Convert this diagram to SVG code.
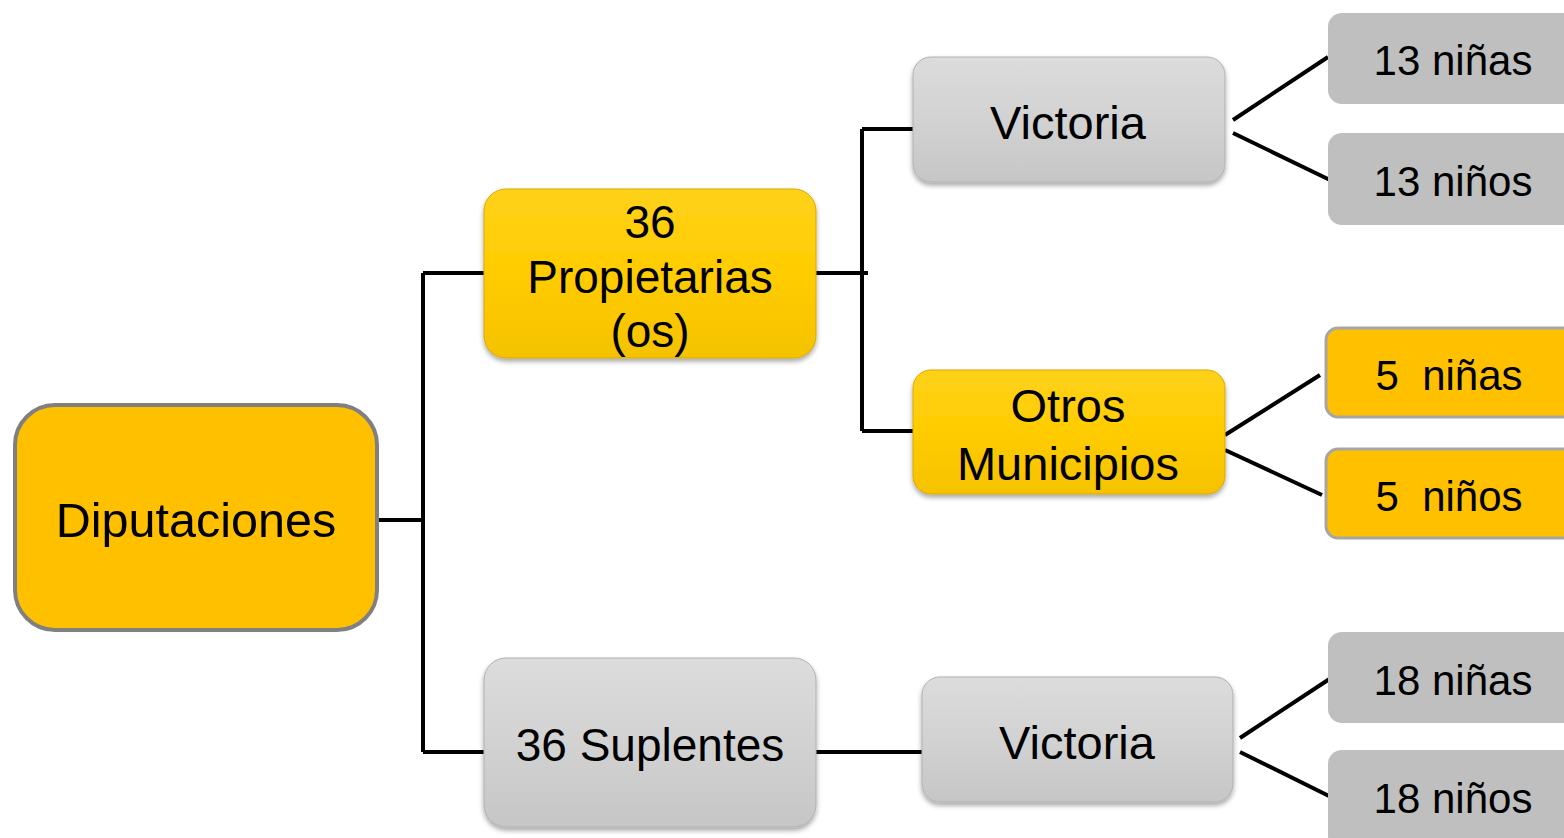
<svg xmlns="http://www.w3.org/2000/svg" width="1564" height="838" viewBox="0 0 1564 838">
<defs>
<linearGradient id="gy" x1="0" y1="0" x2="0" y2="1">
<stop offset="0" stop-color="#FFD21A"/><stop offset="0.5" stop-color="#FFCC00"/><stop offset="1" stop-color="#F5C200"/>
</linearGradient>
<linearGradient id="gg" x1="0" y1="0" x2="0" y2="1">
<stop offset="0" stop-color="#DCDCDC"/><stop offset="0.5" stop-color="#D2D2D2"/><stop offset="1" stop-color="#C6C6C6"/>
</linearGradient>
<filter id="sh" x="-10%" y="-10%" width="120%" height="130%">
<feDropShadow dx="0" dy="3" stdDeviation="2.5" flood-color="#000" flood-opacity="0.35"/>
</filter>
</defs>
<style>
text{font-family:"Liberation Sans",Arial,sans-serif;fill:#000;text-anchor:middle}
.dip{font-size:48.5px}
.big{font-size:47px}
.mid{font-size:46px}
.sm{font-size:42px}
.y3{fill:url(#gy);stroke:#D9A800;stroke-width:1;filter:url(#sh)}
.g3{fill:url(#gg);stroke:#B0B0B0;stroke-width:1;filter:url(#sh)}
.leafg{fill:#BFBFBF}
.leafy{fill:#FFC000;stroke:#A6A6A6;stroke-width:3}
.c{stroke:#000;stroke-width:4;fill:none}
</style>
<g id="connectors">
<path class="c" d="M374 520H423M423 273V752M423 273H485M423 752H485"/>
<path class="c" d="M816 273H868M862 129V431M862 129H914M862 431H914"/>
<path class="c" d="M1233 120L1328 57M1233 133L1330 180"/>
<path class="c" d="M1225 435L1320 375M1225 450L1322 495"/>
<path class="c" d="M816 752H923"/>
<path class="c" d="M1240 738L1331 678M1240 752L1331 797"/>
</g>
<g id="diputaciones">
<rect x="15" y="405" width="362" height="225" rx="40" fill="#FFC000" stroke="#808080" stroke-width="4"/>
<text class="dip" x="196" y="537">Diputaciones</text>
</g>
<g id="propietarias">
<rect class="y3" x="484" y="189" width="332" height="169" rx="22"/>
<text class="mid" x="650" y="238">36</text>
<text class="mid" x="650" y="293">Propietarias</text>
<text class="mid" x="650" y="347">(os)</text>
</g>
<g id="suplentes">
<rect class="g3" x="484" y="658" width="332" height="169" rx="22"/>
<text class="mid" x="650" y="761">36 Suplentes</text>
</g>
<g id="victoria1">
<rect class="g3" x="913" y="57" width="312" height="125" rx="18"/>
<text class="big" x="1068" y="139">Victoria</text>
</g>
<g id="otros">
<rect class="y3" x="913" y="370" width="312" height="124" rx="18"/>
<text class="big" x="1068" y="422">Otros</text>
<text class="big" x="1068" y="480">Municipios</text>
</g>
<g id="victoria2">
<rect class="g3" x="922" y="677" width="311" height="125" rx="18"/>
<text class="big" x="1077" y="759">Victoria</text>
</g>
<g id="n13a">
<rect class="leafg" x="1328" y="13" width="260" height="91" rx="14"/>
<text class="sm" x="1453" y="75">13 niñas</text>
</g>
<g id="n13o">
<rect class="leafg" x="1328" y="133" width="260" height="92" rx="14"/>
<text class="sm" x="1453" y="196">13 niños</text>
</g>
<g id="n5a">
<rect class="leafy" x="1326" y="328" width="260" height="89" rx="12"/>
<text class="sm" x="1449" y="390" xml:space="preserve">5  niñas</text>
</g>
<g id="n5o">
<rect class="leafy" x="1326" y="449" width="260" height="89" rx="12"/>
<text class="sm" x="1449" y="511" xml:space="preserve">5  niños</text>
</g>
<g id="n18a">
<rect class="leafg" x="1328" y="632" width="260" height="91" rx="14"/>
<text class="sm" x="1453" y="695">18 niñas</text>
</g>
<g id="n18o">
<rect class="leafg" x="1328" y="750" width="260" height="100" rx="14"/>
<text class="sm" x="1453" y="813">18 niños</text>
</g>
</svg>
